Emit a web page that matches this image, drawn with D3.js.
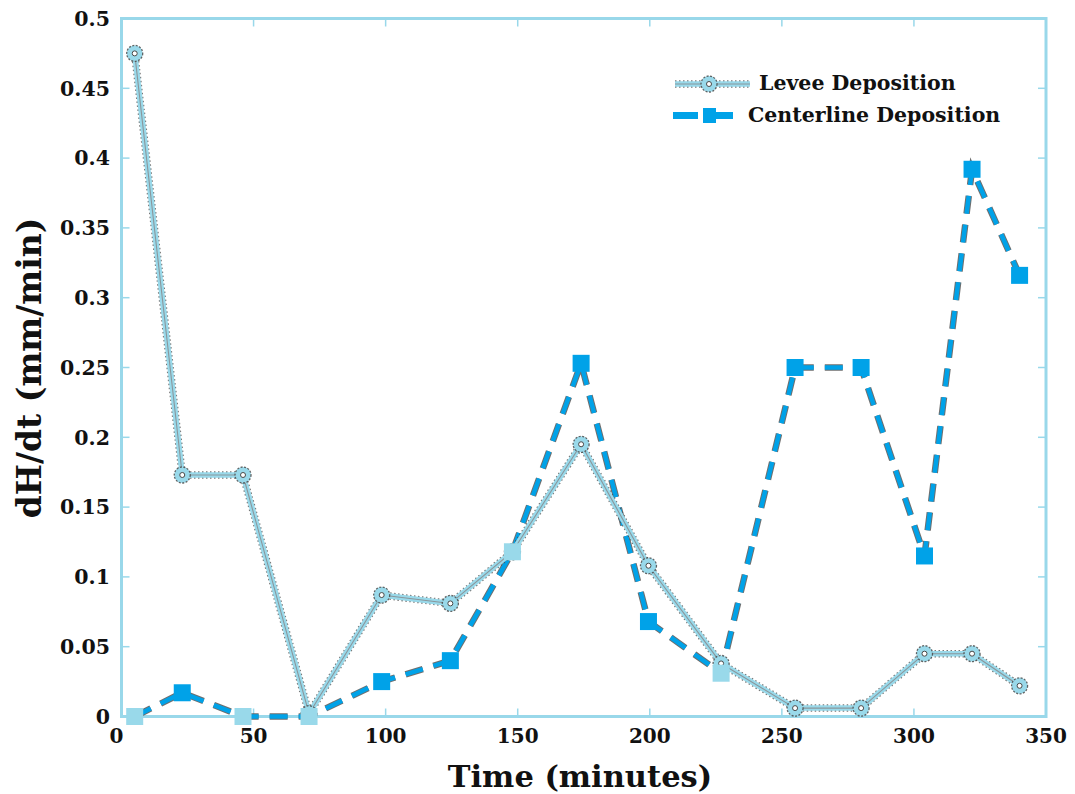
<!DOCTYPE html>
<html>
<head>
<meta charset="utf-8">
<script src="https://cdn.jsdelivr.net/npm/d3@7"></script>
<style>
  html, body { margin: 0; padding: 0; background: #fff; }
  svg { display: block; }
</style>
</head>
<body>
<svg id="chart" width="1075" height="794"></svg>
<script>
// Sampling times (minutes)
const timeMinutes = [5, 23, 46, 71, 98.5, 124.5, 148, 174, 199.5, 227, 255, 280, 304, 322, 340];
// Deposition rate dH/dt (mm/min)
const leveeDeposition = [0.475, 0.173, 0.173, 0.002, 0.087, 0.081, 0.118, 0.195, 0.108, 0.038, 0.006, 0.006, 0.045, 0.045, 0.022];
const centerlineDeposition = [0, 0.017, 0, 0, 0.025, 0.04, 0.118, 0.253, 0.068, 0.031, 0.25, 0.25, 0.115, 0.392, 0.316];
// Axis ticks
const xTicks = [0, 50, 100, 150, 200, 250, 300, 350];
const yTicks = [0, 0.05, 0.1, 0.15, 0.2, 0.25, 0.3, 0.35, 0.4, 0.45, 0.5];
const seriesNames = ["Levee Deposition", "Centerline Deposition"];

const FRAME = "#99d8ea";
const LIGHT = "#99d9ea";
const BLUE = "#00a2e8";
const EDGE = "#4a4a4a";
const FONT = "'DejaVu Serif', 'Liberation Serif', serif";

// squares drawn in the pale tone where they sit on the levee trace / axis
const paleSquares = new Set([0, 2, 3, 6, 9]);

const svg = d3.select("#chart");
const x = d3.scaleLinear().domain([0, 350]).range([121.5, 1046]);
const y = d3.scaleLinear().domain([0, 0.5]).range([716.5, 18.5]);

const [x0, x1] = x.range();
const [yb, yt] = y.range();

// plot frame
svg.append("rect")
  .attr("x", x0).attr("y", yt)
  .attr("width", x1 - x0).attr("height", yb - yt)
  .attr("fill", "none").attr("stroke", FRAME).attr("stroke-width", 3);

// inward tick marks on all four sides
const tickLen = 8;
const tickG = svg.append("g").attr("stroke", FRAME).attr("stroke-width", 1.5);
xTicks.slice(1, -1).forEach(t => {
  tickG.append("line").attr("x1", x(t)).attr("x2", x(t)).attr("y1", yb).attr("y2", yb - tickLen);
  tickG.append("line").attr("x1", x(t)).attr("x2", x(t)).attr("y1", yt).attr("y2", yt + tickLen);
});
yTicks.slice(1, -1).forEach(t => {
  tickG.append("line").attr("y1", y(t)).attr("y2", y(t)).attr("x1", x0).attr("x2", x0 + tickLen);
  tickG.append("line").attr("y1", y(t)).attr("y2", y(t)).attr("x1", x1).attr("x2", x1 - tickLen);
});

// tick labels
const fmt = d => d === 0 ? "0" : String(+d.toFixed(2));
svg.append("g").selectAll("text").data(xTicks).join("text")
  .attr("x", d => x(d) - (d === 0 ? 5 : 0))
  .attr("y", 743)
  .attr("text-anchor", "middle")
  .attr("font-family", FONT).attr("font-weight", "bold").attr("font-size", 20)
  .attr("fill", "#111")
  .text(fmt);
svg.append("g").selectAll("text").data(yTicks).join("text")
  .attr("x", 110)
  .attr("y", d => y(d))
  .attr("dy", "0.36em")
  .attr("text-anchor", "end")
  .attr("font-family", FONT).attr("font-weight", "bold").attr("font-size", 20.5)
  .attr("fill", "#111")
  .text(fmt);

// axis titles
svg.append("text")
  .attr("x", 580).attr("y", 787)
  .attr("text-anchor", "middle")
  .attr("font-family", FONT).attr("font-weight", "bold").attr("font-size", 30.5)
  .attr("fill", "#111")
  .text("Time (minutes)");
svg.append("text")
  .attr("transform", "translate(41,368) rotate(-90)")
  .attr("text-anchor", "middle")
  .attr("font-family", FONT).attr("font-weight", "bold").attr("font-size", 33)
  .attr("fill", "#111")
  .text("dH/dt (mm/min)");

const leveePts = timeMinutes.map((t, i) => [t, leveeDeposition[i]]);
const centerPts = timeMinutes.map((t, i) => [t, centerlineDeposition[i]]);
const line = d3.line().x(d => x(d[0])).y(d => y(d[1]));

// levee trace: pale band with dotted dark edges and a thin grey core
function drawLeveeLine(g, path) {
  g.append("path").attr("d", path).attr("fill", "none")
    .attr("stroke", EDGE).attr("stroke-width", 7.5).attr("stroke-dasharray", "1.5,2.5")
    .attr("stroke-linejoin", "round").attr("opacity", 0.75);
  g.append("path").attr("d", path).attr("fill", "none")
    .attr("stroke", LIGHT).attr("stroke-width", 5.5).attr("stroke-linejoin", "round");
  g.append("path").attr("d", path).attr("fill", "none")
    .attr("stroke", "#8a979c").attr("stroke-width", 1.1).attr("stroke-linejoin", "round");
}
function drawLeveeMarker(g, cx, cy) {
  g.append("circle").attr("cx", cx).attr("cy", cy).attr("r", 8)
    .attr("fill", LIGHT).attr("stroke", EDGE).attr("stroke-width", 1.3)
    .attr("stroke-dasharray", "2,1.5").attr("stroke-opacity", 0.85);
  g.append("circle").attr("cx", cx).attr("cy", cy).attr("r", 2.5)
    .attr("fill", "#fff").attr("stroke", EDGE).attr("stroke-width", 1);
}
// centerline trace: dashed bright-blue line with dark edges
function drawCenterLine(g, path) {
  g.append("path").attr("d", path).attr("fill", "none")
    .attr("stroke", EDGE).attr("stroke-width", 6.5).attr("stroke-dasharray", "18,11")
    .attr("opacity", 0.8);
  g.append("path").attr("d", path).attr("fill", "none")
    .attr("stroke", BLUE).attr("stroke-width", 4.5).attr("stroke-dasharray", "18,11");
}

const plot = svg.append("g");
drawCenterLine(plot, line(centerPts));
drawLeveeLine(plot, line(leveePts));
leveePts.forEach(d => drawLeveeMarker(plot, x(d[0]), y(d[1])));

const sq = 17;
plot.selectAll("rect.sq").data(centerPts).join("rect")
  .attr("class", "sq")
  .attr("x", d => x(d[0]) - sq / 2)
  .attr("y", d => y(d[1]) - sq / 2)
  .attr("width", sq).attr("height", sq)
  .attr("fill", (d, i) => paleSquares.has(i) ? LIGHT : BLUE);

// legend
const lg = svg.append("g");
drawLeveeLine(lg, d3.line()([[675, 84], [750, 84]]));
drawLeveeMarker(lg, 709, 84);
lg.append("text").attr("x", 759).attr("y", 90)
  .attr("font-family", FONT).attr("font-weight", "bold").attr("font-size", 20.5)
  .attr("fill", "#111").text(seriesNames[0]);

lg.append("rect").attr("x", 673).attr("y", 112).attr("width", 25).attr("height", 7).attr("fill", BLUE);
lg.append("rect").attr("x", 703).attr("y", 108).attr("width", 13).attr("height", 15).attr("fill", BLUE);
lg.append("rect").attr("x", 715).attr("y", 112).attr("width", 18).attr("height", 7).attr("fill", BLUE);
lg.append("text").attr("x", 748).attr("y", 122)
  .attr("font-family", FONT).attr("font-weight", "bold").attr("font-size", 20.5)
  .attr("fill", "#111").text(seriesNames[1]);
</script>
</body>
</html>
